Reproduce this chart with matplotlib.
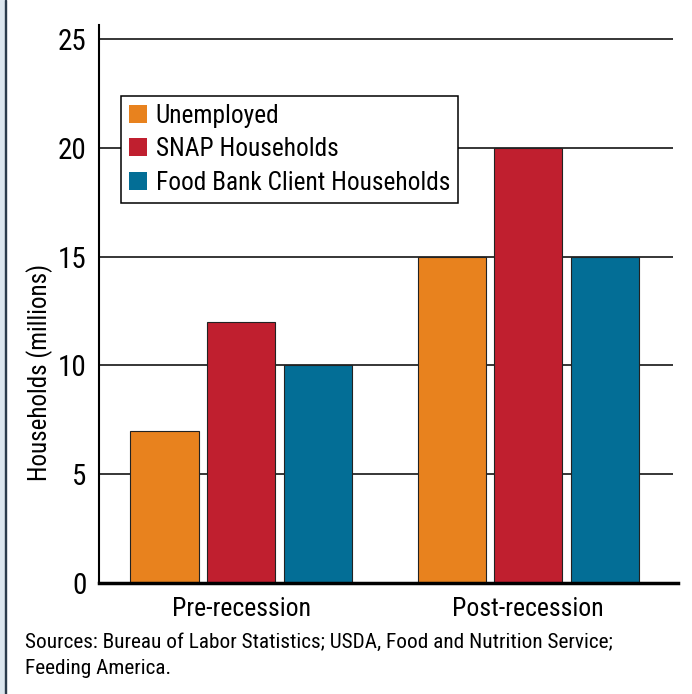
import matplotlib
matplotlib.use("Agg")
import matplotlib.pyplot as plt
import numpy as np
from matplotlib.patches import Rectangle, Patch

plt.rcParams['font.family'] = ['Roboto Condensed', 'Archivo Narrow', 'Barlow Condensed', 'DejaVu Sans']

categories = ['Pre-recession', 'Post-recession']
series = ['Unemployed', 'SNAP Households', 'Food Bank Client Households']
unemployed = [7, 15]
snap = [12, 20]
foodbank = [10, 15]
colors = ['#E8821E', '#C01F2F', '#036E96']
yticks = [0, 5, 10, 15, 20, 25]

W, H = 692, 694
fig = plt.figure(figsize=(W / 100, H / 100), dpi=100)

# left decorative strip
fig.patches.append(Rectangle((0, 0), 5 / W, 1, transform=fig.transFigure,
                             color='#DCE6EE', zorder=0))
fig.patches.append(Rectangle((5 / W, 0), 1.5 / W, 1, transform=fig.transFigure,
                             color='#2B3B4B', zorder=0))

# axes in pixel coordinates
left, right, top, bottom = 99, 673, 25, 583
ax = fig.add_axes([left / W, 1 - bottom / H, (right - left) / W, (bottom - top) / H])

ymax = 25 * (bottom - top) / (bottom - 39)
ax.set_ylim(0, ymax)
ax.set_xlim(-0.4948, 1.505)

x = np.arange(len(categories))
width = 0.237
step = 0.2666
for i, vals in enumerate([unemployed, snap, foodbank]):
    ax.bar(x + (i - 1) * step, vals, width, color=colors[i],
           edgecolor='#222222', linewidth=0.8, zorder=3, label=series[i])

for v in yticks[1:]:
    ax.axhline(v, color='black', linewidth=1.1, zorder=1)
ax.axhline(0, color='black', linewidth=2.5, zorder=4, xmax=1.008, clip_on=False)

ax.set_yticks(yticks)
ax.set_yticklabels([str(t) for t in yticks], fontsize=21)
ax.tick_params(axis='y', length=0, pad=9)
ax.set_xticks(x)
ax.set_xticklabels(categories, fontsize=18.5)
ax.tick_params(axis='x', length=0, pad=10)

for s in ['top', 'right', 'bottom']:
    ax.spines[s].set_visible(False)
ax.spines['left'].set_linewidth(1.5)

fig.text(40 / W, 1 - 372 / H, 'Households (millions)', rotation=90,
         ha='center', va='center', fontsize=18)

handles = [Patch(facecolor=c, edgecolor='none') for c in colors]
leg = ax.legend(handles, series, loc='upper left',
                bbox_to_anchor=(121 / W, 1 - 96 / H),
                bbox_transform=fig.transFigure, fontsize=18.3,
                frameon=True, fancybox=False, edgecolor='black', framealpha=1,
                handlelength=0.72, handleheight=0.72, handletextpad=0.35,
                labelspacing=0.38, borderpad=0.3, borderaxespad=0)
leg.get_frame().set_linewidth(1.1)
leg.set_zorder(5)

fig.text(25 / W, 1 - 642 / H,
         'Sources: Bureau of Labor Statistics; USDA, Food and Nutrition Service;',
         fontsize=15.3, va='center')
fig.text(25 / W, 1 - 669 / H, 'Feeding America.', fontsize=15.3, va='center')

fig.savefig('out.png', dpi=100)
